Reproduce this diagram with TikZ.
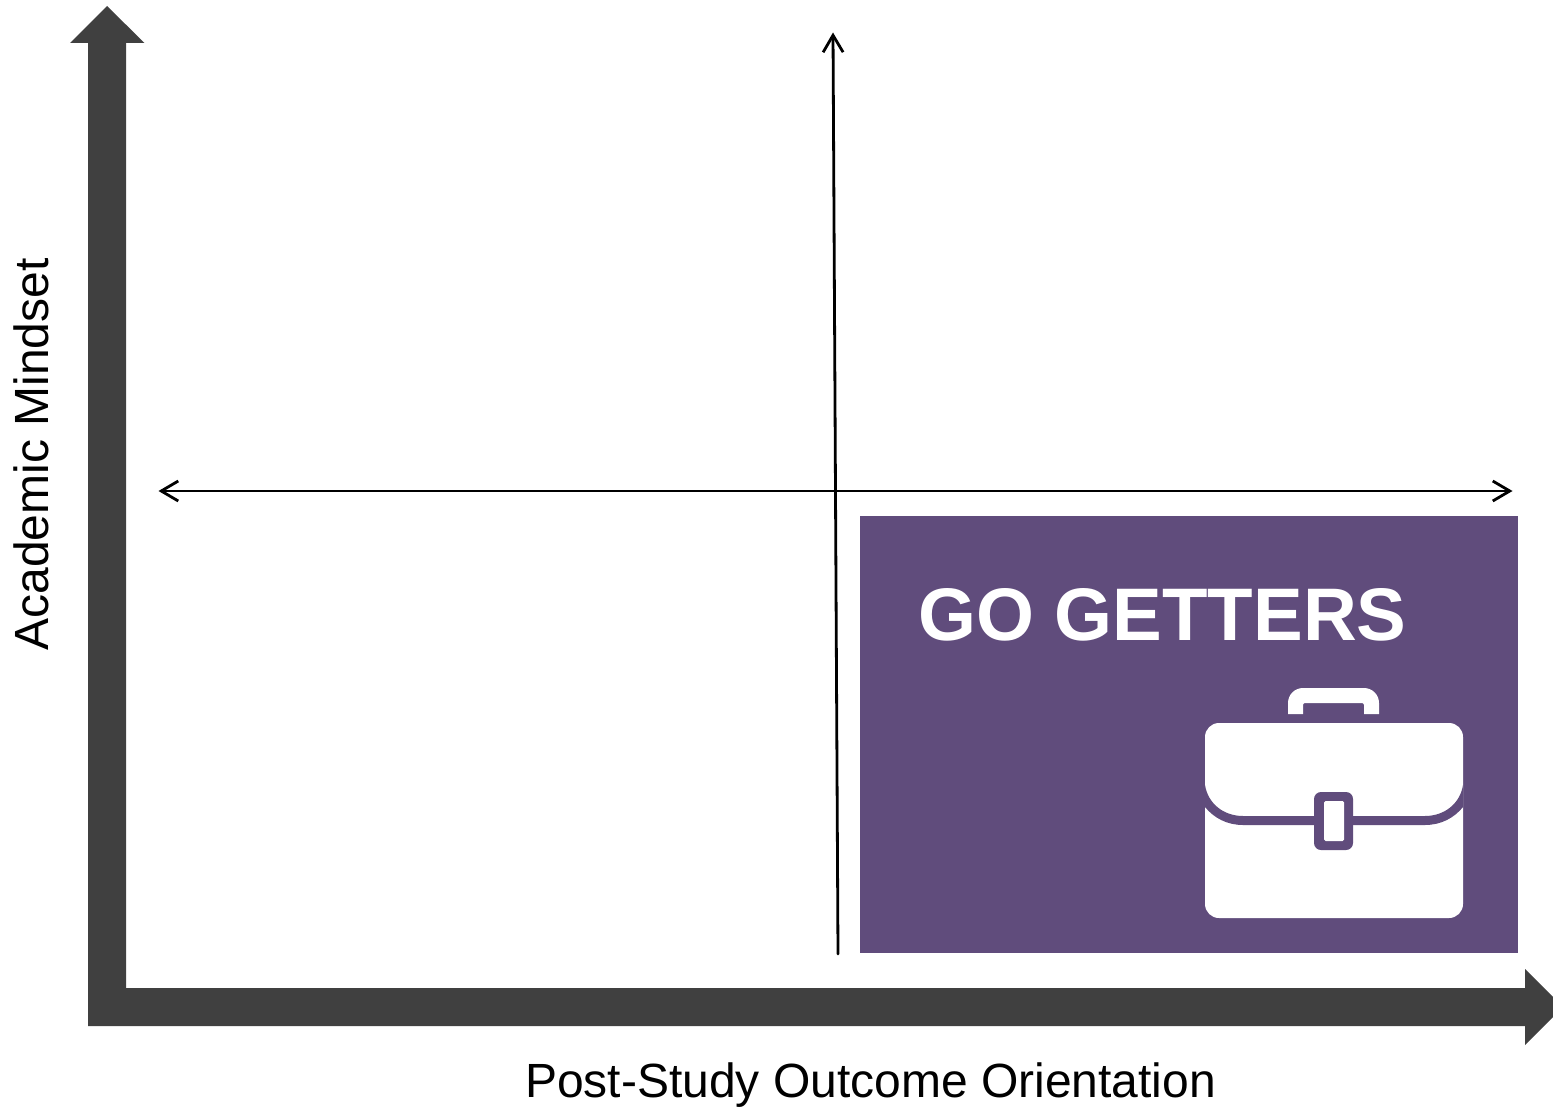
\documentclass[tikz,border=0pt]{standalone}
\usepackage{fontspec}
\setmainfont{Liberation Sans}
\usetikzlibrary{arrows.meta}
\definecolor{axisgrey}{HTML}{404040}
\definecolor{quadpurple}{HTML}{604C7C}
\tikzset{
  axisshape/.style={fill=axisgrey,draw=none},
  thinaxis/.style={draw=black,line width=2.8pt,line cap=round,line join=round},
  axislabel/.style={font=\fontsize{48}{56}\selectfont,text=black,anchor=base,inner sep=0pt},
  quadtitle/.style={font=\fontsize{74.5}{84}\selectfont\bfseries,text=white,anchor=base west,inner sep=0pt},
  iconwhite/.style={fill=white,draw=none},
  iconpurple/.style={fill=quadpurple,draw=none}
}
\begin{document}
\begin{tikzpicture}[x=1pt,y=-1pt]
\useasboundingbox (0,0) rectangle (1553,1108);
% thick axes
\fill[axisshape] (88,1026) -- (88,43) -- (70,43) -- (107,6) -- (144.5,43) -- (126,43) -- (126,988)
  -- (1525,988) -- (1525,969) -- (1553,997) -- (1553,1017) -- (1525,1045) -- (1525,1026) -- cycle;
% quadrant
\node[fill=quadpurple,draw=none,minimum width=658pt,minimum height=437pt,inner sep=0pt,anchor=north west] (quad) at (860,516) {};
% thin axes
\coordinate (vbot) at (838,954);
\coordinate (vtop) at (833,32.5);
\coordinate (hleft) at (158.5,491);
\coordinate (hright) at (1512.5,491);
\draw[thinaxis,-{Straight Barb[length=17pt,width=20pt,line width=2.8pt]}] (vbot) -- (vtop);
\draw[thinaxis,{Straight Barb[length=17pt,width=20pt,line width=2.8pt]}-{Straight Barb[length=17pt,width=20pt,line width=2.8pt]}] (hleft) -- (hright);
% labels
\node[axislabel] (xlab) at (870.5,1097) {Post-Study Outcome Orientation};
\node[axislabel,rotate=90] (ylab) at (48.5,454.5) {Academic Mindset};
\node[quadtitle] (title) at (918,640) {GO GETTERS};
% briefcase
\fill[iconwhite] (1288,714) -- (1288,703) .. controls (1288,694.7) and (1294.7,688) .. (1303,688)
  -- (1364,688) .. controls (1372.3,688) and (1379,694.7) .. (1379,703) -- (1379,714) -- (1364,714)
  -- (1364,705) .. controls (1364,703.9) and (1363.1,703) .. (1362,703) -- (1305,703)
  .. controls (1303.9,703) and (1303,703.9) .. (1303,705) -- (1303,714) -- cycle;
\fill[iconwhite,rounded corners=14pt] (1205,723) rectangle (1463,918);
\fill[iconpurple] (1205,785) .. controls (1208,804) and (1224,816) .. (1243,816) -- (1425,816)
  .. controls (1444,816) and (1460,804) .. (1463,785) -- (1463,807)
  .. controls (1454,818) and (1441,825) .. (1425,825) -- (1243,825)
  .. controls (1227,825) and (1214,818) .. (1205,807) -- cycle;
\fill[iconpurple,rounded corners=7pt] (1314,792) rectangle (1353,850);
\fill[iconwhite,rounded corners=1.5pt] (1324,801) rectangle (1344,841);
\end{tikzpicture}
\end{document}
